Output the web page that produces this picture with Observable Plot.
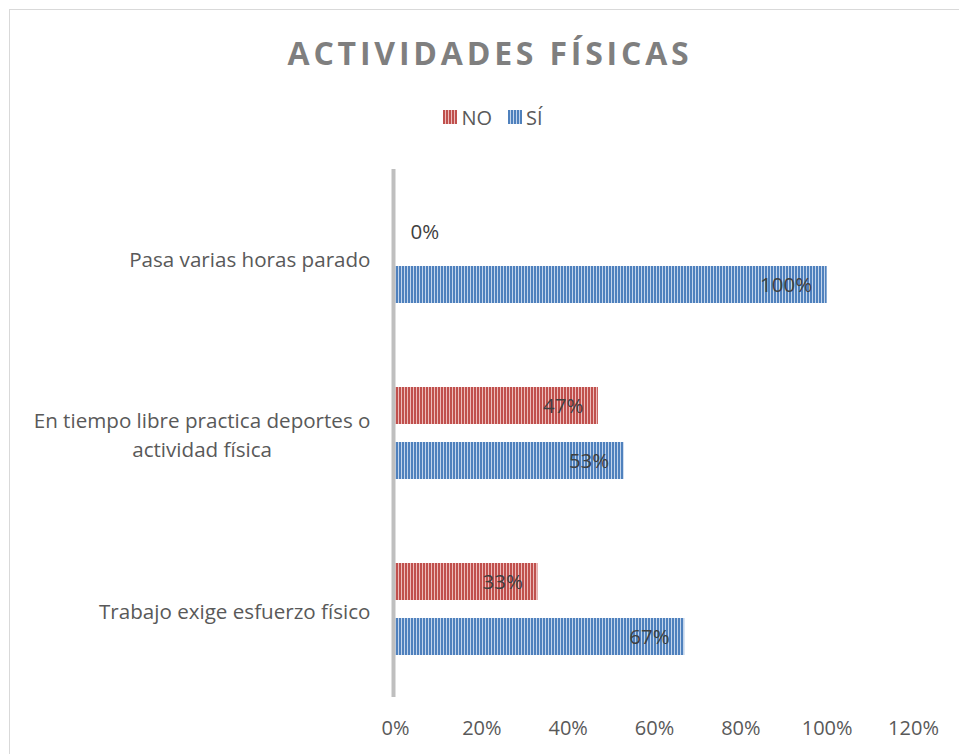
<!DOCTYPE html>
<html>
<head>
<meta charset="utf-8">
<script src="https://cdn.jsdelivr.net/npm/d3@7"></script>
<script src="https://cdn.jsdelivr.net/npm/@observablehq/plot@0.6"></script>
<style>
  html, body { margin: 0; padding: 0; background: #fff; }
  body { width: 959px; height: 754px; overflow: hidden; position: relative; font-family: "Open Sans", sans-serif; }
  #frame { position: absolute; left: 9px; top: 9px; width: 1100px; height: 1100px; border: 1.5px solid #d9d9d9; box-sizing: border-box; pointer-events: none; }
  #title { width: 980px; height: 104px; display: flex; align-items: center; justify-content: center; font-size: 32px; font-weight: bold; letter-spacing: 3.8px; color: #7f7f7f; }
  #legend { width: 986px; height: 26px; display: flex; align-items: center; justify-content: center; font-size: 20px; color: #595959; }
  #legend .item { display: flex; align-items: center; margin: 0 8px; }
  #legend svg { margin-right: 4px; }
  #chart svg { display: block; }
</style>
</head>
<body>
<div id="frame"></div>
<div id="title">ACTIVIDADES FÍSICAS</div>
<div id="legend"></div>
<div id="chart"></div>
<script>
const categories = [
  "Pasa varias horas parado",
  "En tiempo libre practica deportes o\nactividad física",
  "Trabajo exige esfuerzo físico"
];
const series = ["NO", "SÍ"];
const valuesNO = [0.00, 0.47, 0.33];
const valuesSI = [1.00, 0.53, 0.67];
const xTicks = [0, 0.2, 0.4, 0.6, 0.8, 1.0, 1.2];

const colors = { "NO": ["#c0504d", "#ecbcbb"], "SÍ": ["#4f81bd", "#c3d5ec"] };
const patternId = { "NO": "pNO", "SÍ": "pSI" };

const data = [];
categories.forEach((c, i) => {
  data.push({ cat: c, serie: "NO", value: valuesNO[i] });
  data.push({ cat: c, serie: "SÍ", value: valuesSI[i] });
});

const pct = d3.format(".0%");
const fontSize = 20;

function patternDefs() {
  return series.map(s => `<pattern id="${patternId[s]}" patternUnits="userSpaceOnUse" width="3" height="6">
    <rect width="3" height="6" fill="${colors[s][0]}"></rect>
    <rect x="2" width="1" height="6" fill="${colors[s][1]}"></rect></pattern>`).join("");
}

// Legend
const legend = document.getElementById("legend");
series.forEach(s => {
  const item = document.createElement("div");
  item.className = "item";
  item.innerHTML = `<svg width="14" height="14"><defs>${patternDefs()}</defs><rect width="14" height="14" fill="url(#${patternId[s]})"></rect></svg><span>${s}</span>`;
  legend.appendChild(item);
});

const svgHeight = 754 - 130;
const chart = Plot.plot({
  width: 959,
  height: svgHeight,
  marginTop: 39,
  marginBottom: 57,
  marginLeft: 395,
  marginRight: 46,
  style: { fontFamily: "'Open Sans', sans-serif", fontSize: fontSize + "px", color: "#595959", background: "transparent" },
  x: { domain: [0, 1.2], axis: null },
  fy: { domain: categories, padding: 0, axis: null },
  y: { domain: series, paddingInner: 18 / 55, paddingOuter: 0.7636, axis: null },
  marks: [
    Plot.axisX({ ticks: xTicks, tickFormat: pct, tickSize: 0, tickPadding: 23, fontSize: fontSize, fill: "#595959", label: null }),
    Plot.axisFy({ anchor: "left", tickSize: 0, tickPadding: 25, fontSize: 20.6, fill: "#595959", lineHeight: 1.38, label: null }),
    Plot.barX(data.filter(d => d.serie === "NO"), { fy: "cat", y: "serie", x: "value", fill: "url(#pNO)" }),
    Plot.barX(data.filter(d => d.serie === "SÍ"), { fy: "cat", y: "serie", x: "value", fill: "url(#pSI)" }),
    Plot.ruleX([0], { stroke: "#bfbfbf", strokeWidth: 4, dx: -2 }),
    Plot.text(data.filter(d => d.value > 0), { fy: "cat", y: "serie", x: "value", text: d => pct(d.value), textAnchor: "end", dx: -15, fill: "#404040", fontSize: 20.5 }),
    Plot.text(data.filter(d => d.value === 0), { fy: "cat", y: "serie", x: "value", text: d => pct(d.value), textAnchor: "start", dx: 15, dy: 2, fill: "#404040", fontSize: 20.5 })
  ]
});
const defs = document.createElementNS("http://www.w3.org/2000/svg", "defs");
defs.innerHTML = patternDefs();
chart.insertBefore(defs, chart.firstChild);
document.getElementById("chart").appendChild(chart);

// center multi-line category labels within their right-aligned block
chart.querySelectorAll('g[aria-label="fy-axis tick label"] text').forEach(t => {
  const w = t.getBBox().width;
  t.setAttribute("text-anchor", "middle");
  const tr = t.getAttribute("transform") || "";
  t.setAttribute("transform", tr + ` translate(${-w / 2},0)`);
});
</script>
</body>
</html>
